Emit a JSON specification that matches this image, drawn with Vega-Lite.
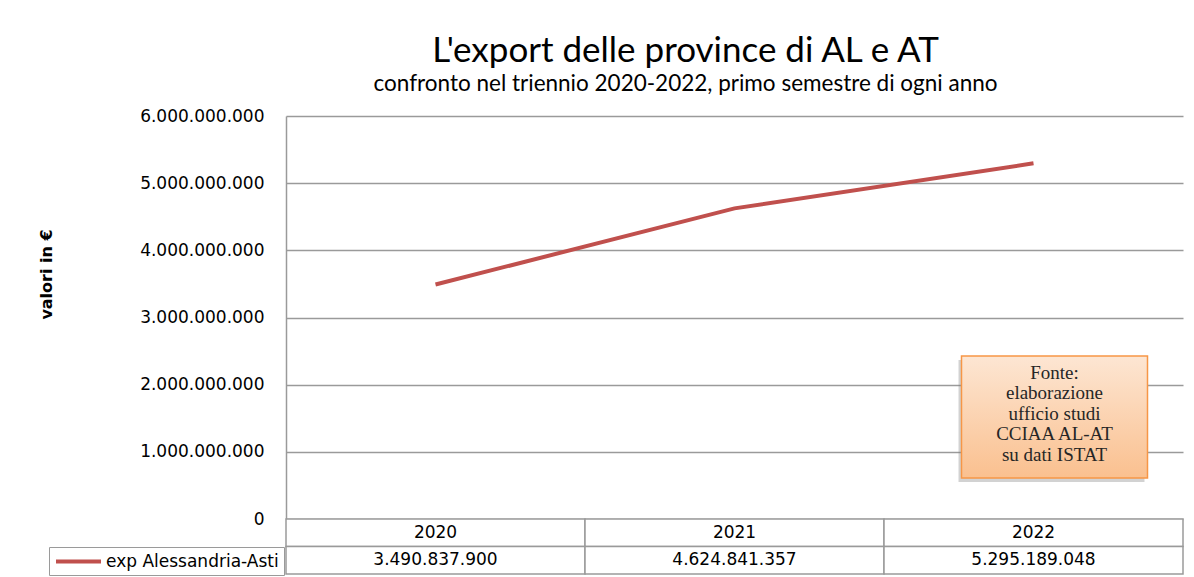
{
  "$schema": "https://vega.github.io/schema/vega-lite/v6.json",
  "background": "white",
  "padding": {"left": 37, "top": 33, "right": 8, "bottom": 3},
  "bounds": "flush",
  "spacing": 0,
  "title": {
    "text": "L'export delle province di AL e AT",
    "subtitle": "confronto nel triennio 2020-2022, primo semestre di ogni anno",
    "anchor": "middle",
    "frame": "group",
    "dx": -49,
    "font": "Lato",
    "fontSize": 35,
    "fontWeight": "normal",
    "color": "#000000",
    "subtitleFont": "Lato",
    "subtitleFontSize": 22.5,
    "subtitleColor": "#000000",
    "subtitlePadding": 4,
    "offset": 12
  },
  "datasets": {
    "export": [
      {"anno": "2020", "valore": 3490837900, "serie": "exp Alessandria-Asti"},
      {"anno": "2021", "valore": 4624841357, "serie": "exp Alessandria-Asti"},
      {"anno": "2022", "valore": 5295189048, "serie": "exp Alessandria-Asti"}
    ],
    "nota": [
      {"anno": "2022", "y": 1520000000, "testo": "Fonte:\nelaborazione\nufficio studi\nCCIAA AL-AT\nsu dati ISTAT"}
    ]
  },
  "vconcat": [
    {
      "width": 897,
      "height": 403,
      "layer": [
        {
          "data": {"name": "export"},
          "mark": {"type": "line", "strokeWidth": 4},
          "encoding": {
            "x": {"field": "anno", "type": "nominal", "scale": {"type": "point", "padding": 0.5}, "axis": null},
            "y": {
              "field": "valore", "type": "quantitative",
              "scale": {"domain": [0, 6000000000], "nice": false},
              "axis": {
                "values": [0, 1000000000, 2000000000, 3000000000, 4000000000, 5000000000, 6000000000],
                "format": ",.0f",
                "grid": true, "gridColor": "#9a9a9a", "gridWidth": 1.5,
                "domain": true, "domainColor": "#9a9a9a", "domainWidth": 1.5,
                "ticks": false, "labelPadding": 22,
                "labelFont": "DejaVu Sans", "labelFontSize": 17, "labelColor": "#000000",
                "title": "valori in €", "titleFont": "DejaVu Sans", "titleFontSize": 16,
                "titleFontWeight": "bold", "titleColor": "#000000",
                "titleAngle": 270, "titleX": -240, "titleY": 158,
                "titleAlign": "center", "titleBaseline": "middle"
              }
            },
            "color": {
              "field": "serie", "type": "nominal",
              "scale": {"range": ["#C0504D"]},
              "legend": {
                "orient": "none", "legendX": -237, "legendY": 431,
                "title": null, "symbolType": "M-1,0H5", "symbolSize": 225,
                "symbolStrokeWidth": 4, "labelOffset": 33,
                "labelFont": "DejaVu Sans", "labelFontSize": 17, "labelColor": "#000000",
                "labelLimit": 400, "padding": 5,
                "strokeColor": "#9a9a9a", "fillColor": "white"
              }
            }
          }
        },
        {
          "data": {"name": "nota"},
          "mark": {"type": "point", "shape": "M-1,-0.656H1V0.656H-1Z", "size": 34596, "filled": true, "fill": "#7f7f7f", "opacity": 0.35, "strokeWidth": 0, "xOffset": 18, "yOffset": 4},
          "encoding": {
            "x": {"field": "anno", "type": "nominal"},
            "y": {"field": "y", "type": "quantitative"}
          }
        },
        {
          "data": {"name": "nota"},
          "mark": {
            "type": "point", "shape": "M-1,-0.656H1V0.656H-1Z", "size": 34596, "filled": true, "opacity": 1,
            "fill": {"x1": 0, "y1": 0, "x2": 0, "y2": 1, "gradient": "linear", "stops": [{"offset": 0, "color": "#FDE6D3"}, {"offset": 1, "color": "#FAC08F"}]},
            "stroke": "#F79646", "strokeWidth": 1.5, "xOffset": 21
          },
          "encoding": {
            "x": {"field": "anno", "type": "nominal"},
            "y": {"field": "y", "type": "quantitative"}
          }
        },
        {
          "data": {"name": "nota"},
          "mark": {"type": "text", "lineBreak": "\n", "font": "Liberation Serif", "fontSize": 19, "lineHeight": 20.5, "color": "#262626", "align": "center", "baseline": "middle", "dx": 21, "dy": -44},
          "encoding": {
            "x": {"field": "anno", "type": "nominal"},
            "y": {"field": "y", "type": "quantitative"},
            "text": {"field": "testo", "type": "nominal"}
          }
        }
      ]
    },
    {
      "width": 897,
      "height": 55,
      "data": {"name": "export"},
      "encoding": {
        "x": {"field": "anno", "type": "nominal", "scale": {"type": "band", "paddingInner": 0, "paddingOuter": 0}, "axis": null}
      },
      "layer": [
        {
          "mark": {"type": "rect", "fill": "white", "stroke": "#9a9a9a", "strokeWidth": 1.5},
          "encoding": {"y": {"datum": "anni", "type": "nominal", "scale": {"type": "band", "domain": ["anni", "valori"], "paddingInner": 0, "paddingOuter": 0}, "axis": null}}
        },
        {
          "mark": {"type": "rect", "fill": "white", "stroke": "#9a9a9a", "strokeWidth": 1.5},
          "encoding": {"y": {"datum": "valori", "type": "nominal"}}
        },
        {
          "mark": {"type": "text", "font": "DejaVu Sans", "fontSize": 17, "color": "#000000", "baseline": "middle"},
          "encoding": {"y": {"datum": "anni", "type": "nominal"}, "text": {"field": "anno", "type": "nominal"}}
        },
        {
          "mark": {"type": "text", "font": "DejaVu Sans", "fontSize": 17, "color": "#000000", "baseline": "middle"},
          "encoding": {"y": {"datum": "valori", "type": "nominal"}, "text": {"field": "valore", "type": "quantitative", "format": ",.0f"}}
        }
      ]
    }
  ],
  "config": {
    "view": {"stroke": null},
    "locale": {"number": {"decimal": ",", "thousands": ".", "grouping": [3], "currency": ["", " €"]}}
  }
}
